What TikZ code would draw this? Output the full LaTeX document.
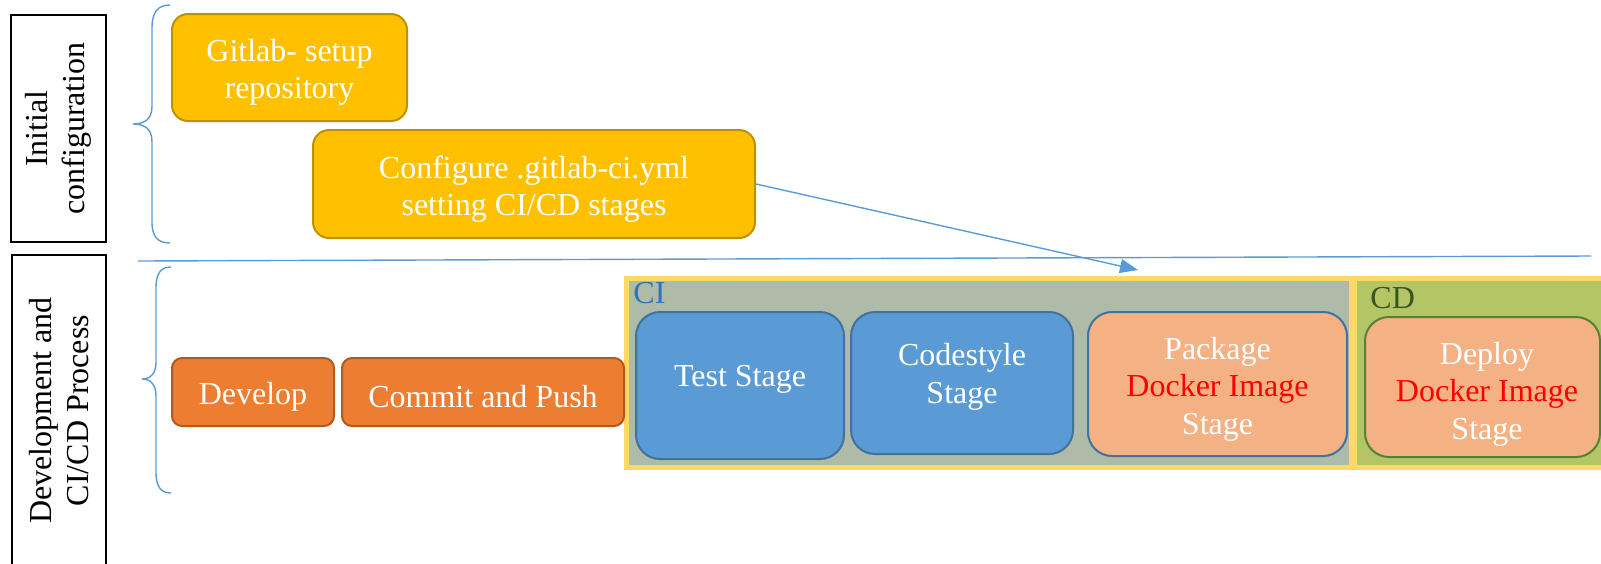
\documentclass[tikz,border=0pt]{standalone}
\usepackage{fontspec}
\setmainfont{Liberation Serif}
\usetikzlibrary{arrows.meta}

\definecolor{goldfill}{HTML}{FFC000}
\definecolor{goldline}{HTML}{BF9000}
\definecolor{orgfill}{HTML}{ED7D31}
\definecolor{orgline}{HTML}{AE5A21}
\definecolor{bluefill}{HTML}{5B9BD5}
\definecolor{blueline}{HTML}{41719C}
\definecolor{salmon}{HTML}{F4B183}
\definecolor{greenline}{HTML}{548235}
\definecolor{cigray}{HTML}{ADBBA8}
\definecolor{cdgreen}{HTML}{B4C566}
\definecolor{frameyellow}{HTML}{FFD966}
\definecolor{citext}{HTML}{2E75B6}
\definecolor{cdtext}{HTML}{375623}
\definecolor{accent}{HTML}{5B9BD5}
\definecolor{redtext}{HTML}{FF0000}

\begin{document}
\begin{tikzpicture}[x=0.5pt,y=-0.5pt,
  every node/.style={font=\fontsize{16}{18.75}\selectfont, inner sep=0pt},
  lblbox/.style={draw=black, line width=1pt, fill=white, rotate=90, align=center},
  stagebox/.style={line width=1pt},
  goldbox/.style={stagebox, fill=goldfill, draw=goldline, rounded corners=8pt},
  orgbox/.style={stagebox, fill=orgfill, draw=orgline, rounded corners=5pt},
  bluebox/.style={stagebox, fill=bluefill, draw=blueline, rounded corners=12pt},
  pkgbox/.style={stagebox, fill=salmon, draw=blueline, rounded corners=12pt},
  depbox/.style={stagebox, fill=salmon, draw=greenline, rounded corners=12pt},
  boxtext/.style={text=white, align=center, yshift=-2.5pt},
  brace/.style={draw=accent, line width=0.7pt},
  conn/.style={draw=accent, line width=0.7pt, -{Triangle[length=9pt,width=7pt]}}
]
\path[use as bounding box] (0,0) rectangle (1601,563);
\clip (0,0) rectangle (1601,563);

% phase labels
\node[lblbox, minimum width=113.5pt, minimum height=47.5pt] (initlbl) at (58.5,128.5)
  {Initial\\configuration};
\node[lblbox, minimum width=155.5pt, minimum height=47pt] (devlbl) at (59,410.5)
  {Development and\\CI/CD Process};

% braces
\draw[brace] (170,5) .. controls (158,5) and (152,12) .. (152,28) -- (152,106)
  .. controls (152,118) and (146,124) .. (133,124)
  .. controls (146,124) and (152,130) .. (152,142) -- (152,222)
  .. controls (152,237) and (158,243) .. (170,243);
\draw[brace] (171,267) .. controls (161,267) and (156,273) .. (156,288) -- (156,362)
  .. controls (156,373) and (151,379) .. (142,379)
  .. controls (151,379) and (156,385) .. (156,396) -- (156,472)
  .. controls (156,487) and (161,493) .. (171,493);

% separator between phases
\coordinate (sepL) at (138,261);
\coordinate (sepR) at (1591,256);
\draw[accent, line width=0.7pt] (sepL) -- (sepR);

% initial configuration steps
\node[goldbox, minimum width=117.5pt, minimum height=53.5pt] (gitlab) at (289.5,67.5) {};
\node[boxtext] (gitlabtxt) at (gitlab.center) {Gitlab- setup\\repository};
\node[goldbox, minimum width=221pt, minimum height=54pt] (config) at (534,184) {};
\node[boxtext] (configtxt) at (config.center) {Configure .gitlab-ci.yml\\setting CI/CD stages};

% pipeline containers
\fill[frameyellow] (624,276) rectangle (1620,470);
\fill[cigray] (629,281) rectangle (1349,465);
\fill[cdgreen] (1357,281) rectangle (1620,465);
\node[anchor=base west, text=citext] (cilbl) at (633,303) {CI};
\node[anchor=base west, text=cdtext] (cdlbl) at (1370,308) {CD};

% development steps
\node[orgbox, minimum width=81pt, minimum height=34pt] (develop) at (253,392) {};
\node[boxtext] (developtxt) at (develop.center) {Develop};
\node[orgbox, minimum width=141pt, minimum height=34pt] (commit) at (483,392) {};
\node[boxtext] (committxt) at (commit.center) {Commit and Push};

% CI stages
\node[bluebox, minimum width=104pt, minimum height=73.5pt] (test) at (740,385.5) {};
\node[boxtext] (testtxt) at (740,374) {Test Stage};
\node[bluebox, minimum width=111pt, minimum height=71pt] (codestyle) at (962,383) {};
\node[boxtext] (codetxt) at (962,372) {Codestyle\\Stage};
\node[pkgbox, minimum width=129.5pt, minimum height=72pt] (package) at (1217.5,384) {};
\node[boxtext] (packagetxt) at (package.center)
  {Package\\\textcolor{redtext}{Docker Image}\\Stage};

% CD stage
\node[depbox, minimum width=117.5pt, minimum height=70pt] (deploy) at (1482.5,387) {};
\node[boxtext] (deploytxt) at (1487,389) {Deploy\\\textcolor{redtext}{Docker Image}\\Stage};

% configuration feeds the pipeline
\coordinate (ciIn) at (1138,270);
\draw[conn] (config.east) -- (ciIn);
\end{tikzpicture}
\end{document}
